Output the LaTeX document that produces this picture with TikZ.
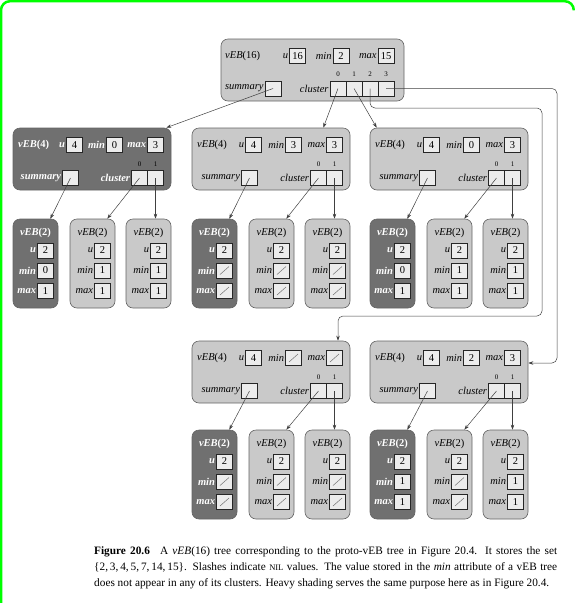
\documentclass[tikz,border=0pt]{standalone}
\usepackage{fontspec}
\setmainfont{Liberation Serif}
\usetikzlibrary{arrows.meta}
\definecolor{nodelt}{RGB}{201,201,201}
\definecolor{nodedk}{RGB}{112,112,112}
\definecolor{boxfill}{RGB}{236,236,236}
\definecolor{edgec}{RGB}{100,100,100}
\definecolor{scrgreen}{RGB}{0,255,0}
\tikzset{
 frame-light/.style={draw=edgec, fill=nodelt, rounded corners=7pt, line width=0.6pt, inner sep=0},
 frame-dark/.style={draw=edgec, fill=nodedk, rounded corners=7pt, line width=0.6pt, inner sep=0},
 lab-light/.style={font=\fontsize{10.5}{12}\selectfont\itshape, text=black, inner sep=1pt},
 lab-dark/.style={font=\fontsize{10.5}{12}\selectfont\bfseries\itshape, text=white, inner sep=1pt},
 valbox/.style={draw=black!85, fill=boxfill, line width=0.6pt, minimum width=16pt, minimum height=15pt, inner sep=0, font=\fontsize{10.5}{12}\selectfont},
 val/.style={},
 nilslash/.style={draw=black!55, line width=0.5pt},
 nil/.style={path picture={\draw[nilslash] ([shift={(3.5pt,3.5pt)}]path picture bounding box.south west) -- ([shift={(-3.5pt,-3.5pt)}]path picture bounding box.north east);}},
 idx/.style={font=\fontsize{7}{8}\selectfont, inner sep=0},
 arr/.style={draw=black!75, line width=0.5pt, -{Stealth[length=5pt,width=3.5pt]}},
 captext/.style={anchor=north west, inner sep=0, text width=463pt, align=justify, font=\fontsize{11.3}{16}\selectfont},
}
% vEB(4) structure: prefix, x0, y0, kind, u, minopt, min, maxopt, max
\newcommand\vebfour[9]{%
 \node[frame-#4, minimum width=158pt, minimum height=62pt] (#1) at (#2+79,#3+31) {};
 \node[lab-#4, anchor=west] (#1-t) at (#2+4,#3+17) {vEB\upshape(4)};
 \node[valbox] (#1-u) at (#2+61.5,#3+17) {#5};
 \node[lab-#4, anchor=east] (#1-ul) at (#1-u.west) {u};
 \node[valbox,#6] (#1-mn) at (#2+101.5,#3+17) {#7};
 \node[lab-#4, anchor=east] (#1-mnl) at (#1-mn.west) {min};
 \node[valbox,#8] (#1-mx) at (#2+142.5,#3+17) {#9};
 \node[lab-#4, anchor=east] (#1-mxl) at (#1-mx.west) {max};
 \node[valbox] (#1-s) at (#2+57.5,#3+50) {};
 \node[lab-#4, anchor=east] (#1-sl) at (#1-s.west) {summary};
 \node[valbox] (#1-c0) at (#2+126.5,#3+50) {};
 \node[valbox] (#1-c1) at (#2+142.5,#3+50) {};
 \node[lab-#4, anchor=east] (#1-cl) at (#1-c0.west) {cluster};
 \node[idx] (#1-i0) at (#2+126.5,#3+36) {0};
 \node[idx] (#1-i1) at (#2+142.5,#3+36) {1};
}
% vEB(2) structure: name, x0, y0, kind, minopt, min, maxopt, max
\newcommand\vebtwo[8]{%
 \node[frame-#4, minimum width=45pt, minimum height=89pt] (#1) at (#2+22.5,#3+44.5) {};
 \node[lab-#4] (#1-t) at (#2+22.5,#3+14) {vEB\upshape(2)};
 \node[valbox] (#1-u) at (#2+32.5,#3+31.5) {2};
 \node[lab-#4, anchor=east] (#1-ul) at (#1-u.west) {u};
 \node[valbox,#5] (#1-mn) at (#2+32.5,#3+51.5) {#6};
 \node[lab-#4, anchor=east] (#1-mnl) at (#1-mn.west) {min};
 \node[valbox,#7] (#1-mx) at (#2+32.5,#3+72) {#8};
 \node[lab-#4, anchor=east] (#1-mxl) at (#1-mx.west) {max};
}
\newcommand\grouparrows[1]{%
 \draw[arr] (#1-s.center) -- ([xshift=-8pt]#1-k1.north east);
 \draw[arr] (#1-c0.center) -- ([xshift=-8pt]#1-k2.north east);
 \draw[arr] (#1-c1.center) -- (#1-c1.center |- #1-k3.north);
}
\begin{document}
\begin{tikzpicture}[x=1pt,y=-1pt]
\useasboundingbox (0,0) rectangle (575,603);
\draw[scrgreen, line width=2.5pt, rounded corners=9pt] (1,603) -- (1,1.2) -- (573.8,1.2) -- (573.8,9);

% top vEB(16)
\node[frame-light, minimum width=183pt, minimum height=62pt] (T) at (312.5,70) {};
\node[lab-light, anchor=west] (T-t) at (224,56) {vEB\upshape(16)};
\node[valbox] (T-u) at (297.5,56) {16};
\node[lab-light, anchor=east] (T-ul) at (T-u.west) {u};
\node[valbox] (T-mn) at (341,56) {2};
\node[lab-light, anchor=east] (T-mnl) at (T-mn.west) {min};
\node[valbox] (T-mx) at (386,56) {15};
\node[lab-light, anchor=east] (T-mxl) at (T-mx.west) {max};
\node[valbox] (T-s) at (273,88.5) {};
\node[lab-light, anchor=east] (T-sl) at (T-s.west) {summary};
\node[valbox] (T-c0) at (338,88.5) {};
\node[valbox] (T-c1) at (354,88.5) {};
\node[valbox] (T-c2) at (370,88.5) {};
\node[valbox] (T-c3) at (386,88.5) {};
\node[lab-light, anchor=east] (T-cl) at (T-c0.west) {cluster};
\node[idx] (T-i0) at (338,74) {0};
\node[idx] (T-i1) at (354,74) {1};
\node[idx] (T-i2) at (370,74) {2};
\node[idx] (T-i3) at (386,74) {3};

% vEB(4) structures
\vebfour{A}{13}{128}{dark}{4}{val}{0}{val}{3}
\vebfour{B}{192}{128}{light}{4}{val}{3}{val}{3}
\vebfour{C}{370}{128}{light}{4}{val}{0}{val}{3}
\vebfour{D}{192}{341}{light}{4}{nil}{}{nil}{}
\vebfour{E}{370}{341}{light}{4}{val}{2}{val}{3}

% vEB(2) structures
\vebtwo{A-k1}{13}{219}{dark}{val}{0}{val}{1}
\vebtwo{A-k2}{70}{219}{light}{val}{1}{val}{1}
\vebtwo{A-k3}{126}{219}{light}{val}{1}{val}{1}
\vebtwo{B-k1}{192}{219}{dark}{nil}{}{nil}{}
\vebtwo{B-k2}{249}{219}{light}{nil}{}{nil}{}
\vebtwo{B-k3}{305}{219}{light}{nil}{}{nil}{}
\vebtwo{C-k1}{370}{219}{dark}{val}{0}{val}{1}
\vebtwo{C-k2}{427}{219}{light}{val}{1}{val}{1}
\vebtwo{C-k3}{483}{219}{light}{val}{1}{val}{1}
\vebtwo{D-k1}{192}{430}{dark}{nil}{}{nil}{}
\vebtwo{D-k2}{249}{430}{light}{nil}{}{nil}{}
\vebtwo{D-k3}{305}{430}{light}{nil}{}{nil}{}
\vebtwo{E-k1}{370}{430}{dark}{val}{1}{val}{1}
\vebtwo{E-k2}{427}{430}{light}{nil}{}{nil}{}
\vebtwo{E-k3}{483}{430}{light}{val}{1}{val}{1}

% connectors from the top structure
\draw[arr] (T-s.center) -- ([xshift=-5pt]A.north east);
\draw[arr] (T-c0.center) -- ([xshift=-27pt]B.north east);
\draw[arr] (T-c1.center) -- ([xshift=7pt]C.north west);
\coordinate (k2a) at (542,108);
\coordinate (k2b) at (338,316);
\draw[arr, rounded corners=5pt] (T-c2.center) |- (k2a) |- (k2b) -- (k2b |- D.north);
\coordinate (k3) at (557,363);
\draw[arr, rounded corners=5pt] (T-c3.center) -| (k3) -- (k3 -| E.east);

\grouparrows{A}
\grouparrows{B}
\grouparrows{C}
\grouparrows{D}
\grouparrows{E}

% caption
\node[captext] (cap) at (94,546) {\textbf{Figure 20.6}\hspace{0.9em}A \textit{vEB}(16) tree corresponding to the proto-vEB tree in Figure 20.4. It stores the set\linebreak \{2,\,3,\,4,\,5,\,7,\,14,\,15\}. Slashes indicate {\fontsize{8.5}{10}\selectfont NIL} values. The value stored in the \textit{min} attribute of a vEB tree\linebreak does not appear in any of its clusters. Heavy shading serves the same purpose here as in Figure 20.4.};
\end{tikzpicture}
\end{document}
